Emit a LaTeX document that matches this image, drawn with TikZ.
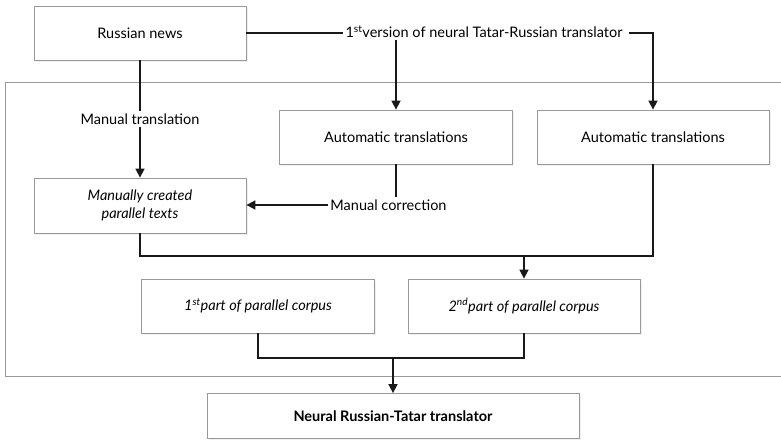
\documentclass[tikz,border=0pt]{standalone}
\usepackage{fontspec}
\setmainfont{Lato}
\usetikzlibrary{arrows.meta,shadows}
\begin{document}
\begin{tikzpicture}[x=1pt,y=-1pt,
  box/.style={draw=black!40, line width=0.8pt, fill=white, inner sep=2pt, align=center,
    drop shadow={opacity=0.12, shadow xshift=1.5pt, shadow yshift=-1.5pt}},
  lbl/.style={inner sep=2pt, align=center},
  conn/.style={line width=1.6pt, black!90},
  arr/.style={conn, -{Triangle[length=9pt,width=9pt]}},
  font=\fontsize{14.5}{17.5}\selectfont]
\useasboundingbox (0,0) rectangle (781,440);
% outer frame
\draw[black!40, line width=0.8pt] (782,82) -- (5,82) -- (5,376) -- (782,376);
% boxes
\node[box, minimum width=212pt, minimum height=54pt] (rn) at (140,33) {Russian news};
\node[box, minimum width=233pt, minimum height=54pt] (at1) at (396,137) {Automatic translations};
\node[box, minimum width=232pt, minimum height=54pt] (at2) at (653,137) {Automatic translations};
\node[box, minimum width=212pt, minimum height=55pt] (mc) at (140,205.5) {\itshape Manually created\\\itshape parallel texts};
\node[box, minimum width=233pt, minimum height=54pt] (p1) at (258,306) {\itshape 1\textsuperscript{st}part of parallel corpus};
\node[box, minimum width=232pt, minimum height=54pt] (p2) at (524,306) {\itshape 2\textsuperscript{nd}part of parallel corpus};
\node[box, minimum width=372pt, minimum height=45pt] (nr) at (393,416) {\bfseries Neural Russian-Tatar translator};
% labels
\node[lbl] (v) at (484,32) {1\textsuperscript{st}version of neural Tatar-Russian translator};
\node[lbl] (mt) at (140,119) {Manual translation};
\node[lbl] (mcr) at (388.5,205) {Manual correction};
% junctions
\coordinate (jA) at (524,256);
\coordinate (jB) at (393,358);
% connectors
\draw[conn] (rn.east) -- (rn.east -| v.west);
\draw[arr] (v.south -| at1.north) -- (at1.north);
\draw[arr] (v.east) ++(4,1) -| (at2.north);
\draw[conn] (rn.south) -- (mt.north);
\draw[arr] (mt.south) -- (mc.north);
\draw[conn] (at1.south) -- (at1.south |- mcr.north);
\draw[arr] (mcr.west) -- (mcr.west -| mc.east);
\draw[conn] (mc.south) |- (at2.south |- jA) -- (at2.south);
\draw[arr] (jA) -- (p2.north);
\draw[conn] (p1.south) |- (p2.south |- jB) -- (p2.south);
\draw[arr] (jB) -- (nr.north);
\end{tikzpicture}
\end{document}
